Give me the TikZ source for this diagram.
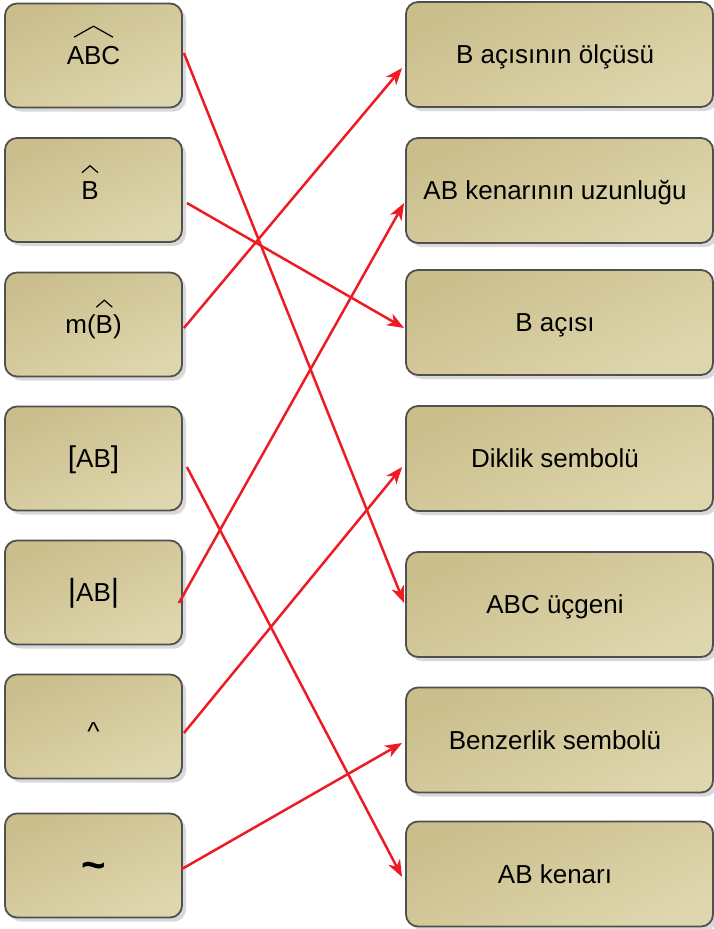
\documentclass[tikz,border=0pt]{standalone}
\usepackage{fontspec}
\setmainfont{Liberation Sans}
\usetikzlibrary{arrows.meta,shadows}
\definecolor{boxa}{HTML}{CABE8C}
\definecolor{boxb}{HTML}{DED6AD}
\definecolor{edgec}{HTML}{505050}
\definecolor{arrc}{HTML}{ED1C24}
\newsavebox\hatsave
\newcommand{\withhat}[3]{%
  \sbox\hatsave{#3}%
  \makebox[\wd\hatsave][c]{\raisebox{#1}{\tikz[x=1pt,y=1pt,sharp corners,line width=1.2pt,line join=miter]\draw[black] #2;}}%
  \kern-\wd\hatsave\usebox\hatsave}
\newcommand{\Bhat}{\withhat{26pt}{(-8,0) .. controls (-4,3.5) .. (0,7) .. controls (4,3.5) .. (8,0)}{B}}
\tikzset{
  card/.style={draw=edgec, line width=1.8pt, rounded corners=12pt, inner sep=0pt,
    top color=boxa, bottom color=boxb, shading angle=25,
    drop shadow={shadow xshift=4pt, shadow yshift=-4pt, fill=black!25, opacity=0.6},
    font=\fontsize{26}{30}\selectfont, text height=18.6pt, text depth=0pt},
  leftcard/.style={card, minimum width=177pt, minimum height=104pt},
  rightcard/.style={card, minimum width=307pt, minimum height=105pt,
    execute at end node={\hspace{9pt}}},
  link/.style={draw=arrc, line width=2.5pt, -{Stealth[length=17pt,width=13pt,inset=5pt]}}
}
\begin{document}
\begin{tikzpicture}[x=1pt,y=-1pt]
\useasboundingbox (0,0) rectangle (714,929);
% left column
\node[leftcard] (L1) at (93.5,55.5) {\withhat{27pt}{(-19.5,0) -- (0,11) -- (19.5,0)}{ABC}};
\node[leftcard] (L2) at (93.5,190) {\hspace{-7pt}\Bhat};
\node[leftcard] (L3) at (93.5,324.5) {m(\Bhat)\hspace{10pt}};
\node[leftcard] (L4) at (93.5,458.5) {{\fontsize{30}{30}\selectfont[}AB{\fontsize{30}{30}\selectfont]}\hspace{6pt}};
\node[leftcard] (L5) at (93.5,592.5) {{\fontsize{32}{32}\selectfont|}AB{\fontsize{32}{32}\selectfont|}};
\node[leftcard] (L6) at (93.5,726.5) {\raisebox{-4.5pt}{\textasciicircum}};
\node[leftcard] (L7) at (93.5,865.5) {{\fontsize{42}{42}\selectfont\bfseries\raisebox{-4.5pt}{\textasciitilde}}};
% right column
\node[rightcard] (R1) at (559.5,54.5) {B açısının ölçüsü};
\node[rightcard] (R2) at (559.5,190.5) {AB kenarının uzunluğu};
\node[rightcard] (R3) at (559.5,322.5) {B açısı};
\node[rightcard] (R4) at (559.5,458.5) {Diklik sembolü};
\node[rightcard] (R5) at (559.5,604.5) {ABC üçgeni};
\node[rightcard] (R6) at (559.5,740) {Benzerlik sembolü};
\node[rightcard] (R7) at (559.5,874) {AB kenarı};
% connectors
\draw[link] ([shift={(1,-2.5)}]L1.east) -- ([shift={(-1,-1.5)}]R5.west);
\draw[link] ([shift={(4,13)}]L2.east) -- ([shift={(-1,5.5)}]R3.west);
\draw[link] ([shift={(1,3.5)}]L3.east) -- ([shift={(-3,13.5)}]R1.west);
\draw[link] ([shift={(4,8.5)}]L4.east) -- ([shift={(-3,3)}]R7.west);
\draw[link] ([shift={(-4,10.5)}]L5.east) -- ([shift={(-1,12.5)}]R2.west);
\draw[link] ([shift={(1,6.5)}]L6.east) -- ([shift={(-3,8.5)}]R4.west);
\draw[link] ([shift={(-1,3.5)}]L7.east) -- ([shift={(-3,3)}]R6.west);
\end{tikzpicture}
\end{document}
